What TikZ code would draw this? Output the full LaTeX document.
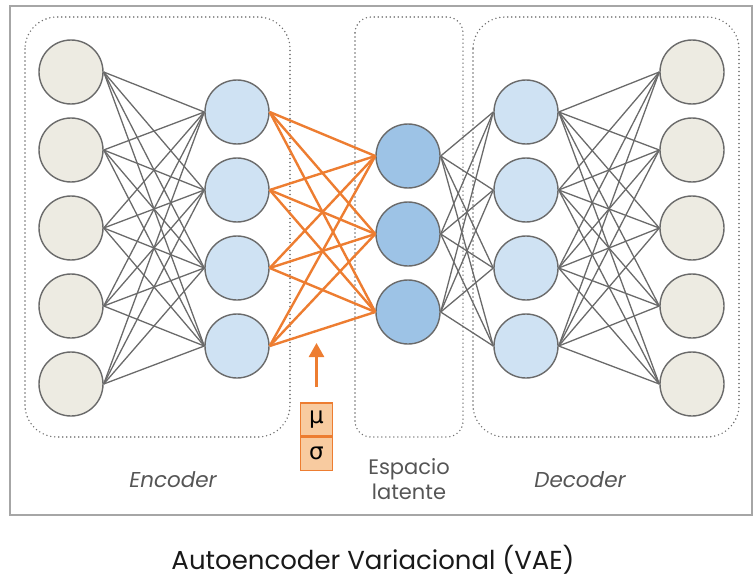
\documentclass[tikz,border=0pt]{standalone}
\usepackage{fontspec}
\setmainfont{Poppins}
\newfontfamily\greekfont{DejaVu Sans}
\usetikzlibrary{arrows.meta}
\definecolor{tanfill}{HTML}{EDEBE2}
\definecolor{bluefill}{HTML}{CFE2F3}
\definecolor{latfill}{HTML}{9DC3E6}
\definecolor{edgegray}{HTML}{6A6A6A}
\definecolor{orng}{HTML}{ED7D31}
\definecolor{orfill}{HTML}{F8CBA0}
\definecolor{framegray}{HTML}{A6A6A6}
\definecolor{dotgray}{HTML}{6E6E6E}
\definecolor{txtgray}{HTML}{555555}
\tikzset{
  neuron/.style={circle, draw=edgegray, line width=1.4pt, minimum size=64pt, inner sep=0pt},
  inneuron/.style={neuron, fill=tanfill},
  hidneuron/.style={neuron, fill=bluefill},
  latneuron/.style={neuron, fill=latfill},
  conn/.style={draw=edgegray, line width=1.3pt},
  oconn/.style={draw=orng, line width=2.4pt},
  groupbox/.style={draw=dotgray, line width=1.6pt, dash pattern=on 0pt off 4pt, line cap=round},
  lbl/.style={text=txtgray, align=center},
  parbox/.style={draw=orng, fill=orfill, line width=1.3pt, minimum width=32pt, minimum height=33pt, inner sep=0pt, font=\greekfont\fontsize{23}{25}\selectfont}
}
\begin{document}
\begin{tikzpicture}[x=1pt,y=-1pt]
\useasboundingbox (0,0) rectangle (753,578);
% outer frame
\draw[framegray, line width=1.6pt] (10,6) rectangle (752,515);
% group boxes
\draw[groupbox, rounded corners=32pt] (25,17) rectangle (290,437);
\draw[groupbox, rounded corners=16pt] (355,17) rectangle (463,437);
\draw[groupbox, rounded corners=32pt] (473,17) rectangle (739,437);
% neurons
\foreach \i/\y in {1/72,2/150,3/228,4/306,5/384}{
  \node[inneuron] (in\i) at (71,\y) {};
  \node[inneuron] (out\i) at (692,\y) {};
}
\foreach \i/\y in {1/112,2/190,3/268,4/346}{
  \node[hidneuron] (eh\i) at (237,\y) {};
  \node[hidneuron] (dh\i) at (526,\y) {};
}
\foreach \i/\y in {1/156,2/234,3/312}{
  \node[latneuron] (la\i) at (408,\y) {};
}
% connections
\foreach \a in {1,...,5}{
  \foreach \b in {1,...,4}{
    \draw[conn] (in\a.east) -- (eh\b.west);
    \draw[conn] (dh\b.east) -- (out\a.west);
  }
}
\foreach \a in {1,...,4}{
  \foreach \b in {1,...,3}{
    \draw[oconn] (eh\a.east) -- (la\b.west);
    \draw[conn] (la\b.east) -- (dh\a.west);
  }
}
% mu sigma box
\node[parbox] (mu) at (316.5,419.5) {μ};
\node[parbox, anchor=north] (sigma) at (mu.south) {σ};
\coordinate (arrtip) at (316.5,343);
\draw[orng, line width=2.6pt, -{Triangle[length=14pt,width=15pt]}] (316.5,387) -- (arrtip);
% labels
\node[lbl, font=\itshape\fontsize{21.5}{24}\selectfont] (enc) at (173,480) {Encoder};
\node[lbl, font=\itshape\fontsize{21.5}{24}\selectfont] (dec) at (580,480) {Decoder};
\node[lbl, font=\fontsize{21}{25}\selectfont] (lat) at (409,479) {Espacio\\latente};
\node[text=black!90, font=\fontsize{26}{30}\selectfont] (title) at (373,560) {Autoencoder Variacional (VAE)};
\end{tikzpicture}
\end{document}
